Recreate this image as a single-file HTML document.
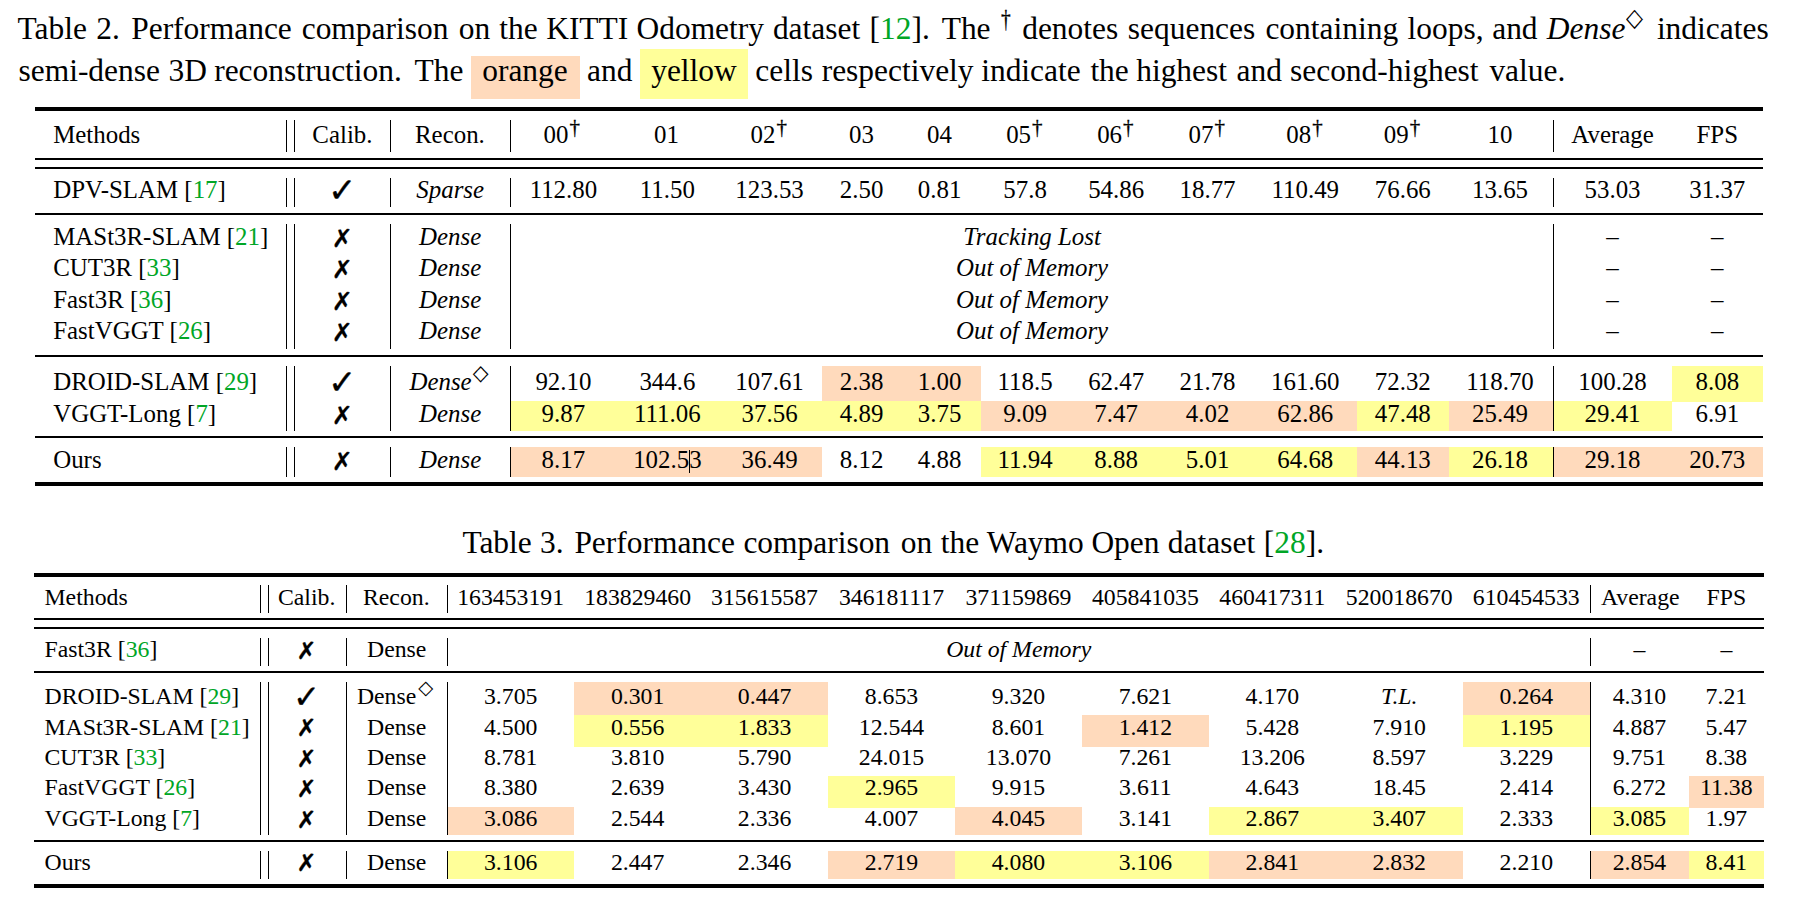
<!DOCTYPE html>
<html lang="en"><head><meta charset="utf-8"><title>Tables</title>
<style>
html,body{margin:0;padding:0;background:#fff;}
body{width:1800px;height:913px;position:relative;overflow:hidden;font-family:"Liberation Serif",serif;color:#000;}
.t{position:absolute;white-space:nowrap;line-height:1;}
.r{position:absolute;}
.g{color:#00A626;}
.dj{position:relative;font-family:"DejaVu Sans",sans-serif;line-height:0;-webkit-text-stroke:0.3px #000;}
.sup{position:relative;line-height:0;}
.dg2{font-size:21px;top:-9.0px;margin-left:1px;margin-right:1.6px;-webkit-text-stroke:0.3px #000;}
.capdag{position:relative;display:inline-block;font-size:24.3px;top:-12.6px;line-height:0;-webkit-text-stroke:0.3px #000;transform:scaleX(0.8);transform-origin:0 50%;}
.capdia{position:relative;display:inline-block;font-family:"DejaVu Sans",sans-serif;font-size:23.5px;top:-14.2px;line-height:0;transform:scale(0.94,1.08);transform-origin:0 50%;}
.dia2{display:inline-block;font-family:"DejaVu Sans",sans-serif;font-size:20.5px;top:-10.5px;margin-left:1.2px;transform:scale(1,1.06);}
.dia3{font-family:"DejaVu Sans",sans-serif;font-size:19.5px;top:-9.8px;margin-left:2px;}
</style></head>
<body>
<div class="t cap" style="left:17.50px;top:13.16px;font-size:31.45px;">Table</div>
<div class="t cap" style="left:96.30px;top:13.16px;font-size:31.45px;">2.</div>
<div class="t cap" style="left:131.20px;top:13.16px;font-size:31.45px;">Performance</div>
<div class="t cap" style="left:301.70px;top:13.16px;font-size:31.45px;">comparison</div>
<div class="t cap" style="left:458.70px;top:13.16px;font-size:31.45px;">on</div>
<div class="t cap" style="left:499.20px;top:13.16px;font-size:31.45px;">the</div>
<div class="t cap" style="left:546.20px;top:13.16px;font-size:31.45px;">KITTI</div>
<div class="t cap" style="left:636.50px;top:13.16px;font-size:31.45px;">Odometry</div>
<div class="t cap" style="left:772.90px;top:13.16px;font-size:31.45px;">dataset</div>
<div class="t cap" style="left:869.60px;top:13.16px;font-size:31.45px;">[<span class="g">12</span>].</div>
<div class="t cap" style="left:941.70px;top:13.16px;font-size:31.45px;">The</div>
<div class="t cap" style="left:1000.60px;top:13.16px;font-size:31.45px;"><span class="dg capdag">&#8224;</span></div>
<div class="t cap" style="left:1022.20px;top:13.16px;font-size:31.45px;">denotes</div>
<div class="t cap" style="left:1127.80px;top:13.16px;font-size:31.45px;">sequences</div>
<div class="t cap" style="left:1265.40px;top:13.16px;font-size:31.45px;">containing</div>
<div class="t cap" style="left:1407.60px;top:13.16px;font-size:31.45px;">loops,</div>
<div class="t cap" style="left:1492.20px;top:13.16px;font-size:31.45px;">and</div>
<div class="t cap" style="left:1546.80px;top:13.16px;font-size:31.45px;"><i>Dense</i></div>
<div class="t cap" style="left:1626.30px;top:13.16px;font-size:31.45px;"><span class="capdia">&#9671;</span></div>
<div class="t cap" style="left:1656.90px;top:13.16px;font-size:31.45px;">indicates</div>
<div class="r" style="left:471.25px;top:56.25px;width:108.25px;height:42.50px;background:#FFDABC"></div>
<div class="r" style="left:640.00px;top:49.25px;width:108.00px;height:49.50px;background:#FFFF99"></div>
<div class="t cap" style="left:18.50px;top:54.56px;font-size:31.45px;">semi-dense</div>
<div class="t cap" style="left:168.60px;top:54.56px;font-size:31.45px;">3D</div>
<div class="t cap" style="left:214.20px;top:54.56px;font-size:31.45px;">reconstruction.</div>
<div class="t cap" style="left:414.50px;top:54.56px;font-size:31.45px;">The</div>
<div class="t cap" style="left:482.20px;top:54.56px;font-size:31.45px;">orange</div>
<div class="t cap" style="left:587.00px;top:54.56px;font-size:31.45px;">and</div>
<div class="t cap" style="left:651.20px;top:54.56px;font-size:31.45px;">yellow</div>
<div class="t cap" style="left:755.30px;top:54.56px;font-size:31.45px;">cells</div>
<div class="t cap" style="left:821.70px;top:54.56px;font-size:31.45px;">respectively</div>
<div class="t cap" style="left:981.20px;top:54.56px;font-size:31.45px;">indicate</div>
<div class="t cap" style="left:1090.40px;top:54.56px;font-size:31.45px;">the</div>
<div class="t cap" style="left:1136.20px;top:54.56px;font-size:31.45px;">highest</div>
<div class="t cap" style="left:1236.50px;top:54.56px;font-size:31.45px;">and</div>
<div class="t cap" style="left:1290.00px;top:54.56px;font-size:31.45px;">second-highest</div>
<div class="t cap" style="left:1489.40px;top:54.56px;font-size:31.45px;">value.</div>
<div class="r l" style="left:35.00px;top:107.00px;width:1728.00px;height:4.00px;background:#000"></div>
<div class="r l" style="left:35.00px;top:158.00px;width:1728.00px;height:2.00px;background:#000"></div>
<div class="r l" style="left:35.00px;top:167.00px;width:1728.00px;height:2.00px;background:#000"></div>
<div class="r l" style="left:35.00px;top:213.00px;width:1728.00px;height:2.00px;background:#000"></div>
<div class="r l" style="left:35.00px;top:355.00px;width:1728.00px;height:2.00px;background:#000"></div>
<div class="r l" style="left:35.00px;top:436.00px;width:1728.00px;height:2.00px;background:#000"></div>
<div class="r l" style="left:35.00px;top:482.00px;width:1728.00px;height:4.00px;background:#000"></div>
<div class="r l" style="left:286.00px;top:120.00px;width:1.00px;height:32.00px;background:#000"></div>
<div class="r l" style="left:294.00px;top:120.00px;width:1.00px;height:32.00px;background:#000"></div>
<div class="r l" style="left:390.00px;top:120.00px;width:1.00px;height:32.00px;background:#000"></div>
<div class="r l" style="left:510.00px;top:120.00px;width:1.00px;height:32.00px;background:#000"></div>
<div class="r l" style="left:1553.00px;top:120.00px;width:1.00px;height:32.00px;background:#000"></div>
<div class="r l" style="left:286.00px;top:178.00px;width:1.00px;height:29.00px;background:#000"></div>
<div class="r l" style="left:294.00px;top:178.00px;width:1.00px;height:29.00px;background:#000"></div>
<div class="r l" style="left:390.00px;top:178.00px;width:1.00px;height:29.00px;background:#000"></div>
<div class="r l" style="left:510.00px;top:178.00px;width:1.00px;height:29.00px;background:#000"></div>
<div class="r l" style="left:1553.00px;top:178.00px;width:1.00px;height:29.00px;background:#000"></div>
<div class="r l" style="left:286.00px;top:224.00px;width:1.00px;height:125.00px;background:#000"></div>
<div class="r l" style="left:294.00px;top:224.00px;width:1.00px;height:125.00px;background:#000"></div>
<div class="r l" style="left:390.00px;top:224.00px;width:1.00px;height:125.00px;background:#000"></div>
<div class="r l" style="left:510.00px;top:224.00px;width:1.00px;height:125.00px;background:#000"></div>
<div class="r l" style="left:1553.00px;top:224.00px;width:1.00px;height:125.00px;background:#000"></div>
<div class="r l" style="left:286.00px;top:366.00px;width:1.00px;height:64.80px;background:#000"></div>
<div class="r l" style="left:294.00px;top:366.00px;width:1.00px;height:64.80px;background:#000"></div>
<div class="r l" style="left:390.00px;top:366.00px;width:1.00px;height:64.80px;background:#000"></div>
<div class="r l" style="left:510.00px;top:366.00px;width:1.00px;height:64.80px;background:#000"></div>
<div class="r l" style="left:1553.00px;top:366.00px;width:1.00px;height:64.80px;background:#000"></div>
<div class="r l" style="left:286.00px;top:447.00px;width:1.00px;height:30.00px;background:#000"></div>
<div class="r l" style="left:294.00px;top:447.00px;width:1.00px;height:30.00px;background:#000"></div>
<div class="r l" style="left:390.00px;top:447.00px;width:1.00px;height:30.00px;background:#000"></div>
<div class="r l" style="left:510.00px;top:447.00px;width:1.00px;height:30.00px;background:#000"></div>
<div class="r l" style="left:1553.00px;top:447.00px;width:1.00px;height:30.00px;background:#000"></div>
<div class="r" style="left:822.30px;top:366.00px;width:78.70px;height:35.70px;background:#FFDABC"></div>
<div class="r" style="left:901.00px;top:366.00px;width:79.50px;height:35.70px;background:#FFDABC"></div>
<div class="r" style="left:1671.80px;top:366.00px;width:91.20px;height:35.70px;background:#FFFF99"></div>
<div class="r" style="left:510.50px;top:400.80px;width:106.00px;height:30.00px;background:#FFFF99"></div>
<div class="r" style="left:616.50px;top:400.80px;width:102.00px;height:30.00px;background:#FFFF99"></div>
<div class="r" style="left:718.50px;top:400.80px;width:103.80px;height:30.00px;background:#FFFF99"></div>
<div class="r" style="left:822.30px;top:400.80px;width:78.70px;height:30.00px;background:#FFFF99"></div>
<div class="r" style="left:901.00px;top:400.80px;width:79.50px;height:30.00px;background:#FFFF99"></div>
<div class="r" style="left:980.50px;top:400.80px;width:89.50px;height:30.00px;background:#FFDABC"></div>
<div class="r" style="left:1070.00px;top:400.80px;width:92.50px;height:30.00px;background:#FFDABC"></div>
<div class="r" style="left:1162.50px;top:400.80px;width:91.50px;height:30.00px;background:#FFDABC"></div>
<div class="r" style="left:1254.00px;top:400.80px;width:102.80px;height:30.00px;background:#FFDABC"></div>
<div class="r" style="left:1356.80px;top:400.80px;width:92.20px;height:30.00px;background:#FFFF99"></div>
<div class="r" style="left:1449.00px;top:400.80px;width:104.50px;height:30.00px;background:#FFDABC"></div>
<div class="r" style="left:1553.50px;top:400.80px;width:118.30px;height:30.00px;background:#FFFF99"></div>
<div class="r" style="left:510.50px;top:447.00px;width:106.00px;height:30.00px;background:#FFDABC"></div>
<div class="r" style="left:616.50px;top:447.00px;width:102.00px;height:30.00px;background:#FFDABC"></div>
<div class="r" style="left:718.50px;top:447.00px;width:103.80px;height:30.00px;background:#FFDABC"></div>
<div class="r" style="left:980.50px;top:447.00px;width:89.50px;height:30.00px;background:#FFFF99"></div>
<div class="r" style="left:1070.00px;top:447.00px;width:92.50px;height:30.00px;background:#FFFF99"></div>
<div class="r" style="left:1162.50px;top:447.00px;width:91.50px;height:30.00px;background:#FFFF99"></div>
<div class="r" style="left:1254.00px;top:447.00px;width:102.80px;height:30.00px;background:#FFFF99"></div>
<div class="r" style="left:1356.80px;top:447.00px;width:92.20px;height:30.00px;background:#FFDABC"></div>
<div class="r" style="left:1449.00px;top:447.00px;width:104.50px;height:30.00px;background:#FFFF99"></div>
<div class="r" style="left:1553.50px;top:447.00px;width:118.30px;height:30.00px;background:#FFDABC"></div>
<div class="r" style="left:1671.80px;top:447.00px;width:91.20px;height:30.00px;background:#FFDABC"></div>
<div class="r l" style="left:510.00px;top:366.00px;width:1.00px;height:64.80px;background:#000"></div>
<div class="r l" style="left:1553.00px;top:366.00px;width:1.00px;height:64.80px;background:#000"></div>
<div class="r l" style="left:510.00px;top:447.00px;width:1.00px;height:30.00px;background:#000"></div>
<div class="r l" style="left:1553.00px;top:447.00px;width:1.00px;height:30.00px;background:#000"></div>
<div class="t " style="left:53.20px;top:123.05px;font-size:24.9px;">Methods</div>
<div class="t " style="left:42.40px;width:600px;text-align:center;top:123.05px;font-size:24.9px;">Calib.</div>
<div class="t " style="left:149.90px;width:600px;text-align:center;top:123.05px;font-size:24.9px;">Recon.</div>
<div class="t " style="left:262.60px;width:600px;text-align:center;top:123.05px;font-size:24.9px;">00<span class="sup dg2">&#8224;</span></div>
<div class="t " style="left:366.50px;width:600px;text-align:center;top:123.05px;font-size:24.9px;">01</div>
<div class="t " style="left:469.60px;width:600px;text-align:center;top:123.05px;font-size:24.9px;">02<span class="sup dg2">&#8224;</span></div>
<div class="t " style="left:561.55px;width:600px;text-align:center;top:123.05px;font-size:24.9px;">03</div>
<div class="t " style="left:639.55px;width:600px;text-align:center;top:123.05px;font-size:24.9px;">04</div>
<div class="t " style="left:725.15px;width:600px;text-align:center;top:123.05px;font-size:24.9px;">05<span class="sup dg2">&#8224;</span></div>
<div class="t " style="left:816.15px;width:600px;text-align:center;top:123.05px;font-size:24.9px;">06<span class="sup dg2">&#8224;</span></div>
<div class="t " style="left:907.55px;width:600px;text-align:center;top:123.05px;font-size:24.9px;">07<span class="sup dg2">&#8224;</span></div>
<div class="t " style="left:1005.30px;width:600px;text-align:center;top:123.05px;font-size:24.9px;">08<span class="sup dg2">&#8224;</span></div>
<div class="t " style="left:1102.80px;width:600px;text-align:center;top:123.05px;font-size:24.9px;">09<span class="sup dg2">&#8224;</span></div>
<div class="t " style="left:1200.05px;width:600px;text-align:center;top:123.05px;font-size:24.9px;">10</div>
<div class="t " style="left:1312.55px;width:600px;text-align:center;top:123.05px;font-size:24.9px;">Average</div>
<div class="t " style="left:1417.30px;width:600px;text-align:center;top:123.05px;font-size:24.9px;">FPS</div>
<div class="t " style="left:53.20px;top:178.05px;font-size:24.9px;">DPV-SLAM [<span class="g">17</span>]</div>
<div class="t " style="left:42.20px;width:600px;text-align:center;top:178.05px;font-size:24.9px;"><span class="dj ck" style="font-size:34.00px;top:4.00px">&#10003;</span></div>
<div class="t " style="left:150.20px;width:600px;text-align:center;top:178.05px;font-size:24.9px;"><i>Sparse</i></div>
<div class="t " style="left:263.40px;width:600px;text-align:center;top:178.05px;font-size:24.9px;">112.80</div>
<div class="t " style="left:367.40px;width:600px;text-align:center;top:178.05px;font-size:24.9px;">11.50</div>
<div class="t " style="left:469.60px;width:600px;text-align:center;top:178.05px;font-size:24.9px;">123.53</div>
<div class="t " style="left:561.55px;width:600px;text-align:center;top:178.05px;font-size:24.9px;">2.50</div>
<div class="t " style="left:639.55px;width:600px;text-align:center;top:178.05px;font-size:24.9px;">0.81</div>
<div class="t " style="left:725.15px;width:600px;text-align:center;top:178.05px;font-size:24.9px;">57.8</div>
<div class="t " style="left:816.15px;width:600px;text-align:center;top:178.05px;font-size:24.9px;">54.86</div>
<div class="t " style="left:907.55px;width:600px;text-align:center;top:178.05px;font-size:24.9px;">18.77</div>
<div class="t " style="left:1005.30px;width:600px;text-align:center;top:178.05px;font-size:24.9px;">110.49</div>
<div class="t " style="left:1102.80px;width:600px;text-align:center;top:178.05px;font-size:24.9px;">76.66</div>
<div class="t " style="left:1200.05px;width:600px;text-align:center;top:178.05px;font-size:24.9px;">13.65</div>
<div class="t " style="left:1312.55px;width:600px;text-align:center;top:178.05px;font-size:24.9px;">53.03</div>
<div class="t " style="left:1417.30px;width:600px;text-align:center;top:178.05px;font-size:24.9px;">31.37</div>
<div class="t " style="left:53.20px;top:224.75px;font-size:24.9px;">MASt3R-SLAM [<span class="g">21</span>]</div>
<div class="t " style="left:42.20px;width:600px;text-align:center;top:224.75px;font-size:24.9px;"><span class="dj cx" style="font-size:25.00px;top:1.80px">&#10007;</span></div>
<div class="t " style="left:150.20px;width:600px;text-align:center;top:224.75px;font-size:24.9px;"><i>Dense</i></div>
<div class="t " style="left:732.10px;width:600px;text-align:center;top:224.75px;font-size:24.9px;"><i>Tracking Lost</i></div>
<div class="t " style="left:1312.55px;width:600px;text-align:center;top:224.75px;font-size:24.9px;">&#8211;</div>
<div class="t " style="left:1417.30px;width:600px;text-align:center;top:224.75px;font-size:24.9px;">&#8211;</div>
<div class="t " style="left:53.20px;top:256.25px;font-size:24.9px;">CUT3R [<span class="g">33</span>]</div>
<div class="t " style="left:42.20px;width:600px;text-align:center;top:256.25px;font-size:24.9px;"><span class="dj cx" style="font-size:25.00px;top:1.80px">&#10007;</span></div>
<div class="t " style="left:150.20px;width:600px;text-align:center;top:256.25px;font-size:24.9px;"><i>Dense</i></div>
<div class="t " style="left:732.10px;width:600px;text-align:center;top:256.25px;font-size:24.9px;"><i>Out of Memory</i></div>
<div class="t " style="left:1312.55px;width:600px;text-align:center;top:256.25px;font-size:24.9px;">&#8211;</div>
<div class="t " style="left:1417.30px;width:600px;text-align:center;top:256.25px;font-size:24.9px;">&#8211;</div>
<div class="t " style="left:53.20px;top:287.85px;font-size:24.9px;">Fast3R [<span class="g">36</span>]</div>
<div class="t " style="left:42.20px;width:600px;text-align:center;top:287.85px;font-size:24.9px;"><span class="dj cx" style="font-size:25.00px;top:1.80px">&#10007;</span></div>
<div class="t " style="left:150.20px;width:600px;text-align:center;top:287.85px;font-size:24.9px;"><i>Dense</i></div>
<div class="t " style="left:732.10px;width:600px;text-align:center;top:287.85px;font-size:24.9px;"><i>Out of Memory</i></div>
<div class="t " style="left:1312.55px;width:600px;text-align:center;top:287.85px;font-size:24.9px;">&#8211;</div>
<div class="t " style="left:1417.30px;width:600px;text-align:center;top:287.85px;font-size:24.9px;">&#8211;</div>
<div class="t " style="left:53.20px;top:319.45px;font-size:24.9px;">FastVGGT [<span class="g">26</span>]</div>
<div class="t " style="left:42.20px;width:600px;text-align:center;top:319.45px;font-size:24.9px;"><span class="dj cx" style="font-size:25.00px;top:1.80px">&#10007;</span></div>
<div class="t " style="left:150.20px;width:600px;text-align:center;top:319.45px;font-size:24.9px;"><i>Dense</i></div>
<div class="t " style="left:732.10px;width:600px;text-align:center;top:319.45px;font-size:24.9px;"><i>Out of Memory</i></div>
<div class="t " style="left:1312.55px;width:600px;text-align:center;top:319.45px;font-size:24.9px;">&#8211;</div>
<div class="t " style="left:1417.30px;width:600px;text-align:center;top:319.45px;font-size:24.9px;">&#8211;</div>
<div class="t " style="left:53.20px;top:370.05px;font-size:24.9px;">DROID-SLAM [<span class="g">29</span>]</div>
<div class="t " style="left:42.20px;width:600px;text-align:center;top:370.05px;font-size:24.9px;"><span class="dj ck" style="font-size:34.00px;top:4.00px">&#10003;</span></div>
<div class="t " style="left:149.00px;width:600px;text-align:center;top:370.05px;font-size:24.9px;"><i>Dense</i><span class="sup dia2">&#9671;</span></div>
<div class="t " style="left:263.40px;width:600px;text-align:center;top:370.05px;font-size:24.9px;">92.10</div>
<div class="t " style="left:367.40px;width:600px;text-align:center;top:370.05px;font-size:24.9px;">344.6</div>
<div class="t " style="left:469.60px;width:600px;text-align:center;top:370.05px;font-size:24.9px;">107.61</div>
<div class="t " style="left:561.55px;width:600px;text-align:center;top:370.05px;font-size:24.9px;">2.38</div>
<div class="t " style="left:639.55px;width:600px;text-align:center;top:370.05px;font-size:24.9px;">1.00</div>
<div class="t " style="left:725.15px;width:600px;text-align:center;top:370.05px;font-size:24.9px;">118.5</div>
<div class="t " style="left:816.15px;width:600px;text-align:center;top:370.05px;font-size:24.9px;">62.47</div>
<div class="t " style="left:907.55px;width:600px;text-align:center;top:370.05px;font-size:24.9px;">21.78</div>
<div class="t " style="left:1005.30px;width:600px;text-align:center;top:370.05px;font-size:24.9px;">161.60</div>
<div class="t " style="left:1102.80px;width:600px;text-align:center;top:370.05px;font-size:24.9px;">72.32</div>
<div class="t " style="left:1200.05px;width:600px;text-align:center;top:370.05px;font-size:24.9px;">118.70</div>
<div class="t " style="left:1312.55px;width:600px;text-align:center;top:370.05px;font-size:24.9px;">100.28</div>
<div class="t " style="left:1417.30px;width:600px;text-align:center;top:370.05px;font-size:24.9px;">8.08</div>
<div class="t " style="left:53.20px;top:402.05px;font-size:24.9px;">VGGT-Long [<span class="g">7</span>]</div>
<div class="t " style="left:42.20px;width:600px;text-align:center;top:402.05px;font-size:24.9px;"><span class="dj cx" style="font-size:25.00px;top:1.80px">&#10007;</span></div>
<div class="t " style="left:150.20px;width:600px;text-align:center;top:402.05px;font-size:24.9px;"><i>Dense</i></div>
<div class="t " style="left:263.40px;width:600px;text-align:center;top:402.05px;font-size:24.9px;">9.87</div>
<div class="t " style="left:367.40px;width:600px;text-align:center;top:402.05px;font-size:24.9px;">111.06</div>
<div class="t " style="left:469.60px;width:600px;text-align:center;top:402.05px;font-size:24.9px;">37.56</div>
<div class="t " style="left:561.55px;width:600px;text-align:center;top:402.05px;font-size:24.9px;">4.89</div>
<div class="t " style="left:639.55px;width:600px;text-align:center;top:402.05px;font-size:24.9px;">3.75</div>
<div class="t " style="left:725.15px;width:600px;text-align:center;top:402.05px;font-size:24.9px;">9.09</div>
<div class="t " style="left:816.15px;width:600px;text-align:center;top:402.05px;font-size:24.9px;">7.47</div>
<div class="t " style="left:907.55px;width:600px;text-align:center;top:402.05px;font-size:24.9px;">4.02</div>
<div class="t " style="left:1005.30px;width:600px;text-align:center;top:402.05px;font-size:24.9px;">62.86</div>
<div class="t " style="left:1102.80px;width:600px;text-align:center;top:402.05px;font-size:24.9px;">47.48</div>
<div class="t " style="left:1200.05px;width:600px;text-align:center;top:402.05px;font-size:24.9px;">25.49</div>
<div class="t " style="left:1312.55px;width:600px;text-align:center;top:402.05px;font-size:24.9px;">29.41</div>
<div class="t " style="left:1417.30px;width:600px;text-align:center;top:402.05px;font-size:24.9px;">6.91</div>
<div class="t " style="left:53.20px;top:448.05px;font-size:24.9px;">Ours</div>
<div class="t " style="left:42.20px;width:600px;text-align:center;top:448.05px;font-size:24.9px;"><span class="dj cx" style="font-size:25.00px;top:1.80px">&#10007;</span></div>
<div class="t " style="left:150.20px;width:600px;text-align:center;top:448.05px;font-size:24.9px;"><i>Dense</i></div>
<div class="t " style="left:263.40px;width:600px;text-align:center;top:448.05px;font-size:24.9px;">8.17</div>
<div class="t " style="left:367.40px;width:600px;text-align:center;top:448.05px;font-size:24.9px;">102.53</div>
<div class="t " style="left:469.60px;width:600px;text-align:center;top:448.05px;font-size:24.9px;">36.49</div>
<div class="t " style="left:561.55px;width:600px;text-align:center;top:448.05px;font-size:24.9px;">8.12</div>
<div class="t " style="left:639.55px;width:600px;text-align:center;top:448.05px;font-size:24.9px;">4.88</div>
<div class="t " style="left:725.15px;width:600px;text-align:center;top:448.05px;font-size:24.9px;">11.94</div>
<div class="t " style="left:816.15px;width:600px;text-align:center;top:448.05px;font-size:24.9px;">8.88</div>
<div class="t " style="left:907.55px;width:600px;text-align:center;top:448.05px;font-size:24.9px;">5.01</div>
<div class="t " style="left:1005.30px;width:600px;text-align:center;top:448.05px;font-size:24.9px;">64.68</div>
<div class="t " style="left:1102.80px;width:600px;text-align:center;top:448.05px;font-size:24.9px;">44.13</div>
<div class="t " style="left:1200.05px;width:600px;text-align:center;top:448.05px;font-size:24.9px;">26.18</div>
<div class="t " style="left:1312.55px;width:600px;text-align:center;top:448.05px;font-size:24.9px;">29.18</div>
<div class="t " style="left:1417.30px;width:600px;text-align:center;top:448.05px;font-size:24.9px;">20.73</div>
<div class="r l" style="left:689.00px;top:450.00px;width:1.00px;height:23.00px;background:#000"></div>
<div class="t cap" style="left:462.40px;top:526.96px;font-size:31.45px;">Table</div>
<div class="t cap" style="left:539.95px;top:526.96px;font-size:31.45px;">3.</div>
<div class="t cap" style="left:574.40px;top:526.96px;font-size:31.45px;">Performance</div>
<div class="t cap" style="left:743.40px;top:526.96px;font-size:31.45px;">comparison</div>
<div class="t cap" style="left:900.85px;top:526.96px;font-size:31.45px;">on</div>
<div class="t cap" style="left:940.75px;top:526.96px;font-size:31.45px;">the</div>
<div class="t cap" style="left:986.75px;top:526.96px;font-size:31.45px;">Waymo</div>
<div class="t cap" style="left:1091.40px;top:526.96px;font-size:31.45px;">Open</div>
<div class="t cap" style="left:1167.85px;top:526.96px;font-size:31.45px;">dataset</div>
<div class="t cap" style="left:1263.85px;top:526.96px;font-size:31.45px;">[<span class="g">28</span>].</div>
<div class="r l" style="left:34.00px;top:573.00px;width:1730.00px;height:4.00px;background:#000"></div>
<div class="r l" style="left:34.00px;top:618.00px;width:1730.00px;height:2.00px;background:#000"></div>
<div class="r l" style="left:34.00px;top:627.00px;width:1730.00px;height:2.00px;background:#000"></div>
<div class="r l" style="left:34.00px;top:671.00px;width:1730.00px;height:2.00px;background:#000"></div>
<div class="r l" style="left:34.00px;top:840.00px;width:1730.00px;height:2.00px;background:#000"></div>
<div class="r l" style="left:34.00px;top:884.00px;width:1730.00px;height:4.00px;background:#000"></div>
<div class="r l" style="left:260.00px;top:585.00px;width:1.00px;height:28.00px;background:#000"></div>
<div class="r l" style="left:268.00px;top:585.00px;width:1.00px;height:28.00px;background:#000"></div>
<div class="r l" style="left:346.00px;top:585.00px;width:1.00px;height:28.00px;background:#000"></div>
<div class="r l" style="left:447.00px;top:585.00px;width:1.00px;height:28.00px;background:#000"></div>
<div class="r l" style="left:1590.00px;top:585.00px;width:1.00px;height:28.00px;background:#000"></div>
<div class="r l" style="left:260.00px;top:638.00px;width:1.00px;height:27.60px;background:#000"></div>
<div class="r l" style="left:268.00px;top:638.00px;width:1.00px;height:27.60px;background:#000"></div>
<div class="r l" style="left:346.00px;top:638.00px;width:1.00px;height:27.60px;background:#000"></div>
<div class="r l" style="left:447.00px;top:638.00px;width:1.00px;height:27.60px;background:#000"></div>
<div class="r l" style="left:1590.00px;top:638.00px;width:1.00px;height:27.60px;background:#000"></div>
<div class="r l" style="left:260.00px;top:682.00px;width:1.00px;height:152.90px;background:#000"></div>
<div class="r l" style="left:268.00px;top:682.00px;width:1.00px;height:152.90px;background:#000"></div>
<div class="r l" style="left:346.00px;top:682.00px;width:1.00px;height:152.90px;background:#000"></div>
<div class="r l" style="left:447.00px;top:682.00px;width:1.00px;height:152.90px;background:#000"></div>
<div class="r l" style="left:1590.00px;top:682.00px;width:1.00px;height:152.90px;background:#000"></div>
<div class="r l" style="left:260.00px;top:851.00px;width:1.00px;height:27.70px;background:#000"></div>
<div class="r l" style="left:268.00px;top:851.00px;width:1.00px;height:27.70px;background:#000"></div>
<div class="r l" style="left:346.00px;top:851.00px;width:1.00px;height:27.70px;background:#000"></div>
<div class="r l" style="left:447.00px;top:851.00px;width:1.00px;height:27.70px;background:#000"></div>
<div class="r l" style="left:1590.00px;top:851.00px;width:1.00px;height:27.70px;background:#000"></div>
<div class="r" style="left:574.44px;top:682.00px;width:126.94px;height:34.30px;background:#FFDABC"></div>
<div class="r" style="left:701.38px;top:682.00px;width:126.94px;height:34.30px;background:#FFDABC"></div>
<div class="r" style="left:1463.02px;top:682.00px;width:127.18px;height:34.30px;background:#FFDABC"></div>
<div class="r" style="left:574.44px;top:715.15px;width:126.94px;height:31.60px;background:#FFFF99"></div>
<div class="r" style="left:701.38px;top:715.15px;width:126.94px;height:31.60px;background:#FFFF99"></div>
<div class="r" style="left:1082.20px;top:715.15px;width:126.94px;height:31.60px;background:#FFDABC"></div>
<div class="r" style="left:1463.02px;top:715.15px;width:127.18px;height:31.60px;background:#FFFF99"></div>
<div class="r" style="left:828.32px;top:776.05px;width:126.94px;height:31.60px;background:#FFFF99"></div>
<div class="r" style="left:1689.30px;top:776.05px;width:74.70px;height:31.60px;background:#FFDABC"></div>
<div class="r" style="left:447.50px;top:806.50px;width:126.94px;height:28.40px;background:#FFDABC"></div>
<div class="r" style="left:955.26px;top:806.50px;width:126.94px;height:28.40px;background:#FFDABC"></div>
<div class="r" style="left:1209.14px;top:806.50px;width:126.94px;height:28.40px;background:#FFFF99"></div>
<div class="r" style="left:1336.08px;top:806.50px;width:126.94px;height:28.40px;background:#FFFF99"></div>
<div class="r" style="left:1590.20px;top:806.50px;width:99.10px;height:28.40px;background:#FFFF99"></div>
<div class="r" style="left:447.50px;top:851.00px;width:126.94px;height:27.70px;background:#FFFF99"></div>
<div class="r" style="left:828.32px;top:851.00px;width:126.94px;height:27.70px;background:#FFDABC"></div>
<div class="r" style="left:955.26px;top:851.00px;width:126.94px;height:27.70px;background:#FFFF99"></div>
<div class="r" style="left:1082.20px;top:851.00px;width:126.94px;height:27.70px;background:#FFFF99"></div>
<div class="r" style="left:1209.14px;top:851.00px;width:126.94px;height:27.70px;background:#FFDABC"></div>
<div class="r" style="left:1336.08px;top:851.00px;width:126.94px;height:27.70px;background:#FFDABC"></div>
<div class="r" style="left:1590.20px;top:851.00px;width:99.10px;height:27.70px;background:#FFDABC"></div>
<div class="r" style="left:1689.30px;top:851.00px;width:74.70px;height:27.70px;background:#FFFF99"></div>
<div class="r l" style="left:447.00px;top:682.00px;width:1.00px;height:152.90px;background:#000"></div>
<div class="r l" style="left:1590.00px;top:682.00px;width:1.00px;height:152.90px;background:#000"></div>
<div class="r l" style="left:447.00px;top:851.00px;width:1.00px;height:27.70px;background:#000"></div>
<div class="r l" style="left:1590.00px;top:851.00px;width:1.00px;height:27.70px;background:#000"></div>
<div class="t " style="left:44.50px;top:586.01px;font-size:23.75px;">Methods</div>
<div class="t " style="left:6.70px;width:600px;text-align:center;top:586.01px;font-size:23.75px;">Calib.</div>
<div class="t " style="left:96.30px;width:600px;text-align:center;top:586.01px;font-size:23.75px;">Recon.</div>
<div class="t " style="left:210.67px;width:600px;text-align:center;top:586.01px;font-size:23.75px;">163453191</div>
<div class="t " style="left:337.61px;width:600px;text-align:center;top:586.01px;font-size:23.75px;">183829460</div>
<div class="t " style="left:464.55px;width:600px;text-align:center;top:586.01px;font-size:23.75px;">315615587</div>
<div class="t " style="left:591.49px;width:600px;text-align:center;top:586.01px;font-size:23.75px;">346181117</div>
<div class="t " style="left:718.43px;width:600px;text-align:center;top:586.01px;font-size:23.75px;">371159869</div>
<div class="t " style="left:845.37px;width:600px;text-align:center;top:586.01px;font-size:23.75px;">405841035</div>
<div class="t " style="left:972.31px;width:600px;text-align:center;top:586.01px;font-size:23.75px;">460417311</div>
<div class="t " style="left:1099.25px;width:600px;text-align:center;top:586.01px;font-size:23.75px;">520018670</div>
<div class="t " style="left:1226.31px;width:600px;text-align:center;top:586.01px;font-size:23.75px;">610454533</div>
<div class="t " style="left:1340.25px;width:600px;text-align:center;top:586.01px;font-size:23.75px;">Average</div>
<div class="t " style="left:1426.35px;width:600px;text-align:center;top:586.01px;font-size:23.75px;">FPS</div>
<div class="t " style="left:44.50px;top:638.01px;font-size:23.75px;">Fast3R [<span class="g">36</span>]</div>
<div class="t " style="left:6.50px;width:600px;text-align:center;top:638.01px;font-size:23.75px;"><span class="dj cx" style="font-size:23.85px;top:1.72px">&#10007;</span></div>
<div class="t " style="left:96.70px;width:600px;text-align:center;top:638.01px;font-size:23.75px;">Dense</div>
<div class="t " style="left:718.70px;width:600px;text-align:center;top:638.01px;font-size:23.75px;"><i>Out of Memory</i></div>
<div class="t " style="left:1339.45px;width:600px;text-align:center;top:638.01px;font-size:23.75px;">&#8211;</div>
<div class="t " style="left:1426.35px;width:600px;text-align:center;top:638.01px;font-size:23.75px;">&#8211;</div>
<div class="t " style="left:44.50px;top:685.11px;font-size:23.75px;">DROID-SLAM [<span class="g">29</span>]</div>
<div class="t " style="left:6.50px;width:600px;text-align:center;top:685.11px;font-size:23.75px;"><span class="dj ck" style="font-size:32.43px;top:3.82px">&#10003;</span></div>
<div class="t " style="left:95.10px;width:600px;text-align:center;top:685.11px;font-size:23.75px;">Dense<span class="sup dia3">&#9671;</span></div>
<div class="t " style="left:210.67px;width:600px;text-align:center;top:685.11px;font-size:23.75px;">3.705</div>
<div class="t " style="left:337.61px;width:600px;text-align:center;top:685.11px;font-size:23.75px;">0.301</div>
<div class="t " style="left:464.55px;width:600px;text-align:center;top:685.11px;font-size:23.75px;">0.447</div>
<div class="t " style="left:591.49px;width:600px;text-align:center;top:685.11px;font-size:23.75px;">8.653</div>
<div class="t " style="left:718.43px;width:600px;text-align:center;top:685.11px;font-size:23.75px;">9.320</div>
<div class="t " style="left:845.37px;width:600px;text-align:center;top:685.11px;font-size:23.75px;">7.621</div>
<div class="t " style="left:972.31px;width:600px;text-align:center;top:685.11px;font-size:23.75px;">4.170</div>
<div class="t " style="left:1099.25px;width:600px;text-align:center;top:685.11px;font-size:23.75px;"><i>T.L.</i></div>
<div class="t " style="left:1226.31px;width:600px;text-align:center;top:685.11px;font-size:23.75px;">0.264</div>
<div class="t " style="left:1339.45px;width:600px;text-align:center;top:685.11px;font-size:23.75px;">4.310</div>
<div class="t " style="left:1426.35px;width:600px;text-align:center;top:685.11px;font-size:23.75px;">7.21</div>
<div class="t " style="left:44.50px;top:715.56px;font-size:23.75px;">MASt3R-SLAM [<span class="g">21</span>]</div>
<div class="t " style="left:6.50px;width:600px;text-align:center;top:715.56px;font-size:23.75px;"><span class="dj cx" style="font-size:23.85px;top:1.72px">&#10007;</span></div>
<div class="t " style="left:96.70px;width:600px;text-align:center;top:715.56px;font-size:23.75px;">Dense</div>
<div class="t " style="left:210.67px;width:600px;text-align:center;top:715.56px;font-size:23.75px;">4.500</div>
<div class="t " style="left:337.61px;width:600px;text-align:center;top:715.56px;font-size:23.75px;">0.556</div>
<div class="t " style="left:464.55px;width:600px;text-align:center;top:715.56px;font-size:23.75px;">1.833</div>
<div class="t " style="left:591.49px;width:600px;text-align:center;top:715.56px;font-size:23.75px;">12.544</div>
<div class="t " style="left:718.43px;width:600px;text-align:center;top:715.56px;font-size:23.75px;">8.601</div>
<div class="t " style="left:845.37px;width:600px;text-align:center;top:715.56px;font-size:23.75px;">1.412</div>
<div class="t " style="left:972.31px;width:600px;text-align:center;top:715.56px;font-size:23.75px;">5.428</div>
<div class="t " style="left:1099.25px;width:600px;text-align:center;top:715.56px;font-size:23.75px;">7.910</div>
<div class="t " style="left:1226.31px;width:600px;text-align:center;top:715.56px;font-size:23.75px;">1.195</div>
<div class="t " style="left:1339.45px;width:600px;text-align:center;top:715.56px;font-size:23.75px;">4.887</div>
<div class="t " style="left:1426.35px;width:600px;text-align:center;top:715.56px;font-size:23.75px;">5.47</div>
<div class="t " style="left:44.50px;top:746.01px;font-size:23.75px;">CUT3R [<span class="g">33</span>]</div>
<div class="t " style="left:6.50px;width:600px;text-align:center;top:746.01px;font-size:23.75px;"><span class="dj cx" style="font-size:23.85px;top:1.72px">&#10007;</span></div>
<div class="t " style="left:96.70px;width:600px;text-align:center;top:746.01px;font-size:23.75px;">Dense</div>
<div class="t " style="left:210.67px;width:600px;text-align:center;top:746.01px;font-size:23.75px;">8.781</div>
<div class="t " style="left:337.61px;width:600px;text-align:center;top:746.01px;font-size:23.75px;">3.810</div>
<div class="t " style="left:464.55px;width:600px;text-align:center;top:746.01px;font-size:23.75px;">5.790</div>
<div class="t " style="left:591.49px;width:600px;text-align:center;top:746.01px;font-size:23.75px;">24.015</div>
<div class="t " style="left:718.43px;width:600px;text-align:center;top:746.01px;font-size:23.75px;">13.070</div>
<div class="t " style="left:845.37px;width:600px;text-align:center;top:746.01px;font-size:23.75px;">7.261</div>
<div class="t " style="left:972.31px;width:600px;text-align:center;top:746.01px;font-size:23.75px;">13.206</div>
<div class="t " style="left:1099.25px;width:600px;text-align:center;top:746.01px;font-size:23.75px;">8.597</div>
<div class="t " style="left:1226.31px;width:600px;text-align:center;top:746.01px;font-size:23.75px;">3.229</div>
<div class="t " style="left:1339.45px;width:600px;text-align:center;top:746.01px;font-size:23.75px;">9.751</div>
<div class="t " style="left:1426.35px;width:600px;text-align:center;top:746.01px;font-size:23.75px;">8.38</div>
<div class="t " style="left:44.50px;top:776.46px;font-size:23.75px;">FastVGGT [<span class="g">26</span>]</div>
<div class="t " style="left:6.50px;width:600px;text-align:center;top:776.46px;font-size:23.75px;"><span class="dj cx" style="font-size:23.85px;top:1.72px">&#10007;</span></div>
<div class="t " style="left:96.70px;width:600px;text-align:center;top:776.46px;font-size:23.75px;">Dense</div>
<div class="t " style="left:210.67px;width:600px;text-align:center;top:776.46px;font-size:23.75px;">8.380</div>
<div class="t " style="left:337.61px;width:600px;text-align:center;top:776.46px;font-size:23.75px;">2.639</div>
<div class="t " style="left:464.55px;width:600px;text-align:center;top:776.46px;font-size:23.75px;">3.430</div>
<div class="t " style="left:591.49px;width:600px;text-align:center;top:776.46px;font-size:23.75px;">2.965</div>
<div class="t " style="left:718.43px;width:600px;text-align:center;top:776.46px;font-size:23.75px;">9.915</div>
<div class="t " style="left:845.37px;width:600px;text-align:center;top:776.46px;font-size:23.75px;">3.611</div>
<div class="t " style="left:972.31px;width:600px;text-align:center;top:776.46px;font-size:23.75px;">4.643</div>
<div class="t " style="left:1099.25px;width:600px;text-align:center;top:776.46px;font-size:23.75px;">18.45</div>
<div class="t " style="left:1226.31px;width:600px;text-align:center;top:776.46px;font-size:23.75px;">2.414</div>
<div class="t " style="left:1339.45px;width:600px;text-align:center;top:776.46px;font-size:23.75px;">6.272</div>
<div class="t " style="left:1426.35px;width:600px;text-align:center;top:776.46px;font-size:23.75px;">11.38</div>
<div class="t " style="left:44.50px;top:806.91px;font-size:23.75px;">VGGT-Long [<span class="g">7</span>]</div>
<div class="t " style="left:6.50px;width:600px;text-align:center;top:806.91px;font-size:23.75px;"><span class="dj cx" style="font-size:23.85px;top:1.72px">&#10007;</span></div>
<div class="t " style="left:96.70px;width:600px;text-align:center;top:806.91px;font-size:23.75px;">Dense</div>
<div class="t " style="left:210.67px;width:600px;text-align:center;top:806.91px;font-size:23.75px;">3.086</div>
<div class="t " style="left:337.61px;width:600px;text-align:center;top:806.91px;font-size:23.75px;">2.544</div>
<div class="t " style="left:464.55px;width:600px;text-align:center;top:806.91px;font-size:23.75px;">2.336</div>
<div class="t " style="left:591.49px;width:600px;text-align:center;top:806.91px;font-size:23.75px;">4.007</div>
<div class="t " style="left:718.43px;width:600px;text-align:center;top:806.91px;font-size:23.75px;">4.045</div>
<div class="t " style="left:845.37px;width:600px;text-align:center;top:806.91px;font-size:23.75px;">3.141</div>
<div class="t " style="left:972.31px;width:600px;text-align:center;top:806.91px;font-size:23.75px;">2.867</div>
<div class="t " style="left:1099.25px;width:600px;text-align:center;top:806.91px;font-size:23.75px;">3.407</div>
<div class="t " style="left:1226.31px;width:600px;text-align:center;top:806.91px;font-size:23.75px;">2.333</div>
<div class="t " style="left:1339.45px;width:600px;text-align:center;top:806.91px;font-size:23.75px;">3.085</div>
<div class="t " style="left:1426.35px;width:600px;text-align:center;top:806.91px;font-size:23.75px;">1.97</div>
<div class="t " style="left:44.50px;top:850.71px;font-size:23.75px;">Ours</div>
<div class="t " style="left:6.50px;width:600px;text-align:center;top:850.71px;font-size:23.75px;"><span class="dj cx" style="font-size:23.85px;top:1.72px">&#10007;</span></div>
<div class="t " style="left:96.70px;width:600px;text-align:center;top:850.71px;font-size:23.75px;">Dense</div>
<div class="t " style="left:210.67px;width:600px;text-align:center;top:850.71px;font-size:23.75px;">3.106</div>
<div class="t " style="left:337.61px;width:600px;text-align:center;top:850.71px;font-size:23.75px;">2.447</div>
<div class="t " style="left:464.55px;width:600px;text-align:center;top:850.71px;font-size:23.75px;">2.346</div>
<div class="t " style="left:591.49px;width:600px;text-align:center;top:850.71px;font-size:23.75px;">2.719</div>
<div class="t " style="left:718.43px;width:600px;text-align:center;top:850.71px;font-size:23.75px;">4.080</div>
<div class="t " style="left:845.37px;width:600px;text-align:center;top:850.71px;font-size:23.75px;">3.106</div>
<div class="t " style="left:972.31px;width:600px;text-align:center;top:850.71px;font-size:23.75px;">2.841</div>
<div class="t " style="left:1099.25px;width:600px;text-align:center;top:850.71px;font-size:23.75px;">2.832</div>
<div class="t " style="left:1226.31px;width:600px;text-align:center;top:850.71px;font-size:23.75px;">2.210</div>
<div class="t " style="left:1339.45px;width:600px;text-align:center;top:850.71px;font-size:23.75px;">2.854</div>
<div class="t " style="left:1426.35px;width:600px;text-align:center;top:850.71px;font-size:23.75px;">8.41</div>
</body></html>
